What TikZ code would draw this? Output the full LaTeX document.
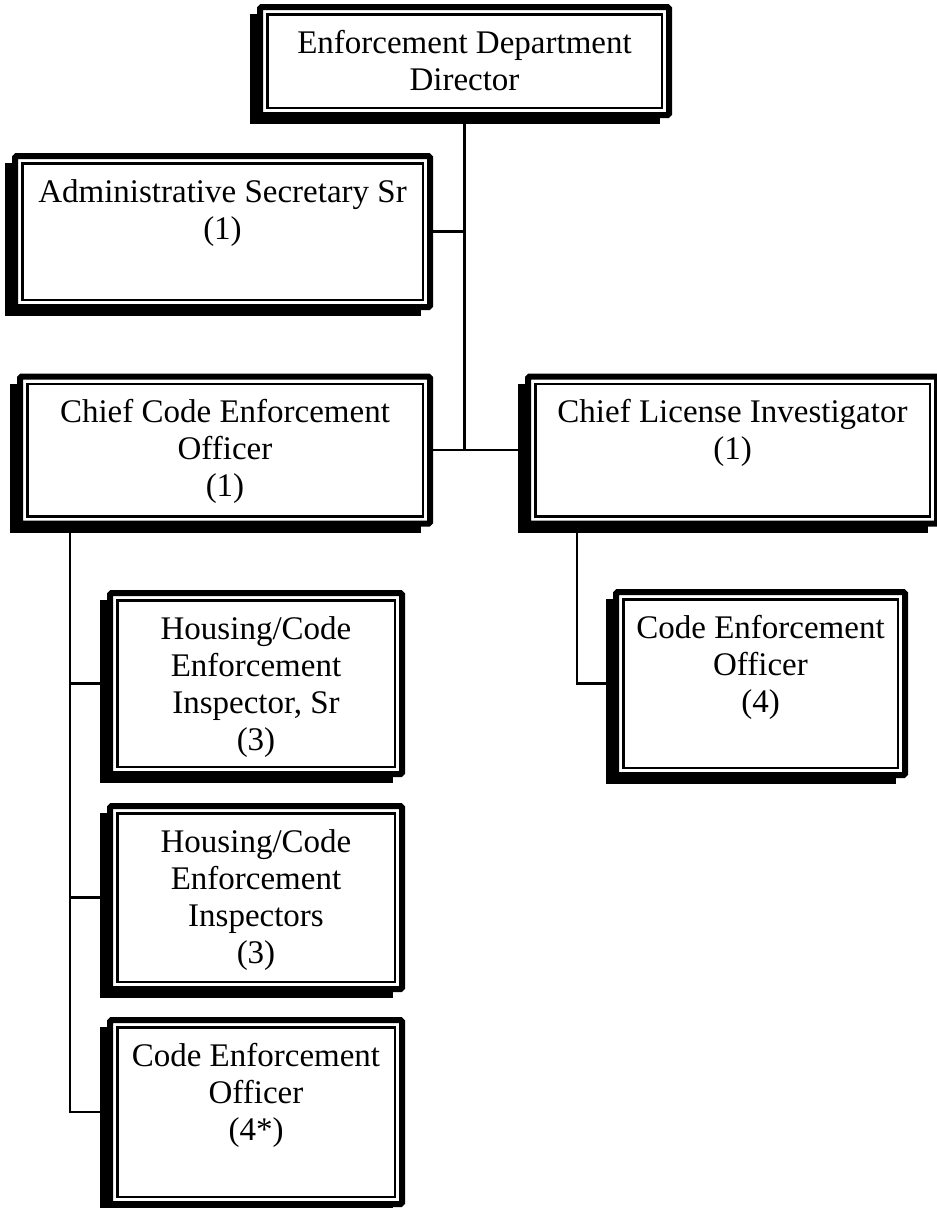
\documentclass[tikz,border=0pt]{standalone}
\usepackage{fontspec}
\setmainfont{Liberation Serif}

% A framed org-chart box: drop shadow, thick outer frame, thin inner rule,
% text hung from the top. Arguments: name, left, top, right, bottom, text.
\newcommand\orgbox[6]{%
  \pgfmathsetmacro\obW{#4-#2}%
  \pgfmathsetmacro\obH{#5-#3}%
  \pgfmathsetmacro\obX{(#2+#4)/2}%
  \pgfmathsetmacro\obY{(#3+#5)/2}%
  \fill[black] (#2-7,#3+10) rectangle (#4-12,#5+6);
  \node[orgframe, minimum width=\obW pt-6pt, minimum height=\obH pt-6pt] (#1) at (\obX,\obY)
    {\parbox[c][\dimexpr\obH pt-12pt\relax][t]{\dimexpr\obW pt-12pt\relax}{\centering\rule{0pt}{43pt}#6}};
}

\begin{document}
\begin{tikzpicture}[x=1pt,y=-1pt,
  orgframe/.style={rectangle, draw=black, fill=white, line width=6pt,
    inner sep=0pt, outer sep=3pt, rounded corners=1.5pt,
    font=\fontsize{33}{37}\selectfont,
    path picture={\draw[line width=2.5pt, sharp corners]
      ([shift={(7.25pt,7.25pt)}]path picture bounding box.south west) rectangle
      ([shift={(-7.25pt,-7.25pt)}]path picture bounding box.north east);}},
  link/.style={draw=black, line width=2.5pt}]

\path[use as bounding box, fill=white] (0,0) rectangle (937,1208);

% boxes
\orgbox{dir}{257}{4}{672}{118}{Enforcement Department\\Director}
\orgbox{adm}{12}{153}{433}{310}{Administrative Secretary Sr\\(1)}
\orgbox{ccode}{17}{373.5}{433}{526.5}{Chief Code Enforcement\\Officer\\(1)}
\orgbox{cli}{525}{373.5}{940}{526.5}{Chief License Investigator\\(1)}
\orgbox{hsr}{107}{590}{405}{777}{Housing/Code\\Enforcement\\Inspector, Sr\\(3)}
\orgbox{hin}{107}{803}{405}{992}{Housing/Code\\Enforcement\\Inspectors\\(3)}
\orgbox{ceo4s}{107}{1017}{405}{1207}{Code Enforcement\\Officer\\(4*)}
\orgbox{ceo4}{613}{589}{908}{778}{Code Enforcement\\Officer\\(4)}

% reporting lines
\draw[link] (dir.south) -- (dir.south |- ccode.east);
\draw[link] (adm.east) -- (adm.east -| dir.south);
\draw[link] (ccode.east) -- (cli.west);
\draw[link] ([xshift=53pt]ccode.south west) coordinate (ccspine) |- (ceo4s.west);
\draw[link] (hsr.west) -- (hsr.west -| ccspine);
\draw[link] (hin.west) -- (hin.west -| ccspine);
\draw[link] ([xshift=52pt]cli.south west) |- (ceo4.west);
\end{tikzpicture}
\end{document}
